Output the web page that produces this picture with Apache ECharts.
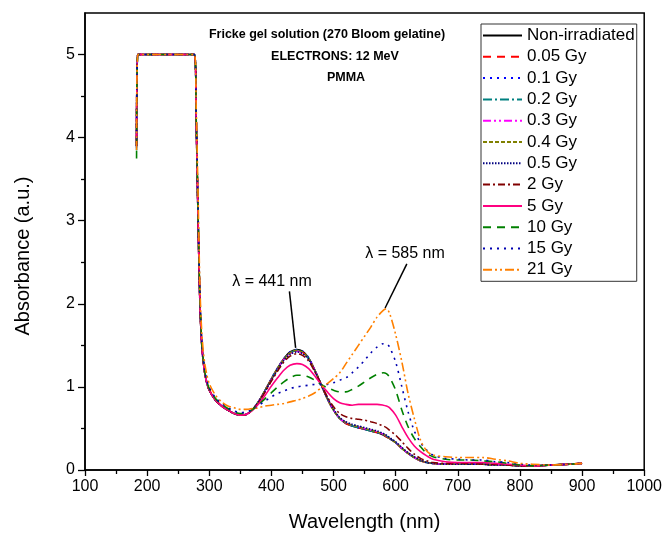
<!DOCTYPE html>
<html><head><meta charset="utf-8">
<script src="https://cdn.jsdelivr.net/npm/echarts@6/dist/echarts.min.js"></script>
<style>html,body{margin:0;padding:0;background:#fff}#c{width:665px;height:537px}</style>
</head><body><div id="c"></div>
<script>
const wavelengths = [183,185,276,279,282,285,288,292,296,300, 310,320,330,340,350,360,370,380,390,400, 410,420,430,441,450,460,470,480,490,500, 510,520,530,540,550,560,570,580,585,590, 600,610,620,630,640,650,660,680,700,720, 740,760,780,800,820,850,880,900];

const seriesNames = ['Non-irradiated','0.05 Gy','0.1 Gy','0.2 Gy','0.3 Gy','0.4 Gy','0.5 Gy','2 Gy','5 Gy','10 Gy','15 Gy','21 Gy'];

const nonIrradiated = [3.90,5,5,4.2,3.0,2.0,1.5,1.2,1.05,0.96, 0.84,0.77,0.72,0.68,0.66,0.67,0.73,0.83,0.96,1.10, 1.23,1.34,1.42,1.45,1.43,1.35,1.20,1.03,0.86,0.72, 0.62,0.56,0.53,0.51,0.49,0.47,0.45,0.42,0.40,0.38, 0.33,0.26,0.20,0.15,0.11,0.09,0.08,0.07,0.07,0.07, 0.07,0.06,0.06,0.05,0.05,0.06,0.07,0.08];
const gy005 = [3.95,5,5,4.25,3.05,2.02,1.52,1.21,1.06,0.97, 0.85,0.77,0.72,0.68,0.66,0.67,0.73,0.83,0.96,1.09, 1.22,1.33,1.41,1.44,1.42,1.34,1.20,1.03,0.86,0.72, 0.62,0.56,0.53,0.51,0.49,0.47,0.45,0.42,0.40,0.38, 0.33,0.26,0.20,0.15,0.11,0.09,0.08,0.07,0.07,0.07, 0.07,0.06,0.06,0.05,0.05,0.06,0.07,0.08];
const gy01 = [3.88,5,5,4.2,3.02,2.0,1.5,1.2,1.05,0.96, 0.84,0.77,0.72,0.68,0.66,0.67,0.73,0.83,0.96,1.10, 1.23,1.34,1.42,1.45,1.43,1.35,1.20,1.03,0.86,0.72, 0.62,0.57,0.53,0.51,0.49,0.47,0.45,0.43,0.41,0.38, 0.33,0.26,0.20,0.15,0.11,0.09,0.08,0.07,0.07,0.07, 0.07,0.06,0.06,0.05,0.05,0.06,0.07,0.08];
const gy02 = [3.85,5,5,4.22,3.04,2.01,1.51,1.21,1.05,0.96, 0.84,0.77,0.72,0.68,0.66,0.67,0.73,0.83,0.96,1.09, 1.22,1.33,1.41,1.44,1.42,1.34,1.20,1.03,0.86,0.72, 0.62,0.57,0.53,0.51,0.49,0.47,0.45,0.43,0.41,0.38, 0.33,0.26,0.20,0.15,0.11,0.09,0.08,0.07,0.07,0.07, 0.07,0.06,0.06,0.05,0.05,0.06,0.07,0.08];
const gy03 = [3.95,5,5,4.18,3.0,2.0,1.5,1.2,1.05,0.96, 0.84,0.77,0.72,0.68,0.66,0.67,0.73,0.83,0.95,1.09, 1.22,1.33,1.40,1.43,1.41,1.34,1.20,1.03,0.86,0.72, 0.62,0.57,0.54,0.52,0.50,0.48,0.46,0.43,0.41,0.38, 0.33,0.26,0.20,0.15,0.11,0.09,0.08,0.07,0.07,0.07, 0.07,0.06,0.06,0.05,0.05,0.06,0.07,0.08];
const gy04 = [3.90,5,5,4.2,3.02,2.0,1.5,1.2,1.05,0.96, 0.84,0.77,0.72,0.68,0.66,0.67,0.73,0.83,0.96,1.09, 1.22,1.33,1.41,1.44,1.42,1.34,1.20,1.03,0.86,0.72, 0.62,0.57,0.54,0.52,0.50,0.48,0.46,0.43,0.41,0.38, 0.33,0.26,0.20,0.15,0.11,0.09,0.08,0.07,0.07,0.07, 0.07,0.06,0.06,0.05,0.05,0.06,0.07,0.08];
const gy05 = [3.90,5,5,4.22,3.03,2.01,1.51,1.21,1.05,0.96, 0.84,0.77,0.72,0.68,0.66,0.67,0.73,0.83,0.95,1.08, 1.21,1.32,1.39,1.42,1.40,1.33,1.19,1.03,0.87,0.73, 0.63,0.58,0.55,0.53,0.51,0.49,0.47,0.44,0.42,0.39, 0.34,0.27,0.21,0.16,0.12,0.09,0.08,0.07,0.07,0.07, 0.07,0.06,0.06,0.05,0.05,0.06,0.07,0.08];
const gy2 = [3.90,5,5,4.2,3.0,2.0,1.5,1.2,1.05,0.96, 0.84,0.77,0.72,0.68,0.66,0.67,0.73,0.82,0.94,1.07, 1.19,1.30,1.37,1.40,1.38,1.31,1.18,1.03,0.88,0.76, 0.68,0.64,0.62,0.61,0.60,0.58,0.56,0.53,0.51,0.48, 0.42,0.34,0.26,0.19,0.14,0.11,0.09,0.08,0.08,0.08, 0.07,0.07,0.06,0.05,0.05,0.06,0.07,0.08];
const gy5 = [3.90,5,5,4.2,3.0,2.0,1.5,1.2,1.05,0.96, 0.84,0.77,0.72,0.68,0.66,0.67,0.72,0.80,0.90,1.01, 1.11,1.20,1.26,1.28,1.27,1.22,1.13,1.03,0.94,0.86, 0.81,0.79,0.78,0.79,0.79,0.79,0.79,0.78,0.77,0.75, 0.66,0.52,0.39,0.29,0.22,0.17,0.13,0.10,0.09,0.09, 0.09,0.08,0.07,0.06,0.05,0.06,0.07,0.08];
const gy10 = [3.75,5,5,4.2,3.05,2.05,1.52,1.22,1.07,0.98, 0.86,0.79,0.74,0.70,0.68,0.69,0.73,0.79,0.86,0.93, 1.00,1.06,1.11,1.14,1.14,1.12,1.08,1.03,0.99,0.96, 0.94,0.94,0.97,1.01,1.06,1.11,1.15,1.17,1.16,1.12, 0.96,0.72,0.52,0.38,0.28,0.20,0.16,0.13,0.12,0.12, 0.11,0.10,0.08,0.06,0.05,0.06,0.07,0.08];
const gy15 = [3.90,5,5,4.25,3.1,2.1,1.55,1.24,1.08,0.99, 0.87,0.80,0.75,0.71,0.69,0.70,0.73,0.78,0.83,0.88, 0.92,0.95,0.98,1.00,1.01,1.02,1.03,1.03,1.03,1.05, 1.08,1.11,1.17,1.24,1.32,1.41,1.48,1.52,1.52,1.48, 1.30,1.00,0.70,0.47,0.33,0.24,0.18,0.14,0.13,0.12, 0.12,0.10,0.09,0.07,0.06,0.06,0.07,0.08];
const gy21 = [3.85,5,5,4.35,3.3,2.2,1.65,1.32,1.15,1.04, 0.90,0.82,0.77,0.75,0.73,0.73,0.74,0.75,0.77,0.78, 0.79,0.80,0.82,0.84,0.86,0.89,0.93,0.99,1.04,1.10, 1.17,1.28,1.39,1.50,1.61,1.72,1.84,1.92,1.94,1.89, 1.63,1.30,0.92,0.62,0.36,0.23,0.18,0.16,0.15,0.15, 0.15,0.13,0.11,0.08,0.07,0.06,0.07,0.08];

const allValues = [nonIrradiated,gy005,gy01,gy02,gy03,gy04,gy05,gy2,gy5,gy10,gy15,gy21];

const xTicks = [100,200,300,400,500,600,700,800,900,1000];
const yMajorTicks = [0,1,2,3,4,5];
const yMinorTicks = [0.5,1.5,2.5,3.5,4.5];

const titleLines = ['Fricke gel solution (270 Bloom gelatine)','ELECTRONS: 12 MeV','PMMA'];
const xAxisTitle = 'Wavelength (nm)';
const yAxisTitle = 'Absorbance (a.u.)';
const peak1Label = 'λ = 441 nm';
const peak2Label = 'λ = 585 nm';
const arrow1 = [[429,2.15],[439,1.47]];
const arrow2 = [[618,2.48],[583,1.95]];

const FONT = 'Arial, "Liberation Sans", sans-serif';

const styles = [
  {color:'#000000', type:'solid'},
  {color:'#ff0000', type:[8,6]},
  {color:'#0000ff', type:[2,5]},
  {color:'#008080', type:[9,3,2,3]},
  {color:'#ff00ff', type:[8,3,2,3,2,3]},
  {color:'#808000', type:[4,2]},
  {color:'#000080', type:[1.5,1.5]},
  {color:'#800000', type:[7,3,2,3]},
  {color:'#ff0080', type:'solid'},
  {color:'#008000', type:[8,6]},
  {color:'#0000b0', type:[2,5]},
  {color:'#ff8000', type:[9,3,2,3,2,3]}
];

const series = seriesNames.map((name, k) => {
  const s = {
    name: name,
    type: 'line',
    symbol: 'none',
    showSymbol: false,
    smooth: 0.3,
    animation: false,
    data: wavelengths.map((w, i) => [w, allValues[k][i]]),
    lineStyle: {color: styles[k].color, type: styles[k].type, width: 1.6},
    itemStyle: {color: styles[k].color},
    z: 2 + k
  };
  if (k === 0) {
    s.markLine = {
      silent: true,
      animation: false,
      symbol: ['none','arrow'],
      symbolSize: [0, 11],
      label: {show: false},
      lineStyle: {color:'#000', type:'solid', width: 1.5},
      data: [
        [{coord: arrow1[0]}, {coord: arrow1[1]}],
        [{coord: arrow2[0]}, {coord: arrow2[1]}]
      ]
    };
  }
  return s;
});

const chart = echarts.init(document.getElementById('c'), null, {renderer:'canvas'});
chart.setOption({
  animation: false,
  backgroundColor: '#fff',
  grid: {left: 85, right: 19, top: 13, bottom: 65, show: true, borderColor: '#000', borderWidth: 1.5, backgroundColor: 'transparent'},
  xAxis: {
    type: 'value', min: 100, max: 1000, interval: 100,
    name: xAxisTitle, nameLocation: 'middle', nameGap: 42,
    nameTextStyle: {fontFamily: FONT, fontSize: 20, color: '#000'},
    axisLine: {show: true, lineStyle: {color:'#000', width: 1.5}},
    axisTick: {show: true, inside: false, length: 6, lineStyle: {color:'#000', width: 1.3}},
    minorTick: {show: true, splitNumber: 2, length: 4, lineStyle: {color:'#000', width: 1.3}},
    axisLabel: {fontFamily: FONT, fontSize: 16, color: '#000', margin: 9, customValues: xTicks, formatter: v => String(v)},
    splitLine: {show: false}
  },
  yAxis: [{
    type: 'value', min: 0, max: 5.5,
    axisLine: {show: true, lineStyle: {color:'#000', width: 1.5}},
    axisTick: {show: true, length: 7, lineStyle: {color:'#000', width: 1.3}, customValues: yMajorTicks},
    axisLabel: {fontFamily: FONT, fontSize: 16, color: '#000', margin: 10, customValues: yMajorTicks, formatter: v => String(v)},
    splitLine: {show: false}
  }, {
    type: 'value', min: 0, max: 5.5, position: 'left',
    axisLine: {show: false},
    axisTick: {show: true, length: 4, lineStyle: {color:'#000', width: 1.3}, customValues: yMinorTicks},
    axisLabel: {show: false},
    splitLine: {show: false}
  }],
  legend: {
    data: seriesNames,
    orient: 'vertical', left: 481, top: 24,
    padding: [3, 2, 3, 1],
    itemWidth: 39, itemHeight: 12, itemGap: 4.3,
    align: 'left',
    borderColor: '#333', borderWidth: 1,
    backgroundColor: '#fff',
    itemStyle: {opacity: 0},
    textStyle: {fontFamily: FONT, fontSize: 17, color: '#000', lineHeight: 17},
    selectedMode: false
  },
  graphic: [
    {type:'text', style: {text: titleLines[0], font: 'bold 12.5px ' + FONT, fill:'#000', x: 327, y: 35, textAlign:'center', textVerticalAlign:'middle'}},
    {type:'text', style: {text: titleLines[1], font: 'bold 12.5px ' + FONT, fill:'#000', x: 335, y: 57, textAlign:'center', textVerticalAlign:'middle'}},
    {type:'text', style: {text: titleLines[2], font: 'bold 12.5px ' + FONT, fill:'#000', x: 346, y: 78, textAlign:'center', textVerticalAlign:'middle'}},
    {type:'text', style: {text: peak1Label, font: '16px ' + FONT, fill:'#000', x: 272, y: 282, textAlign:'center', textVerticalAlign:'middle'}},
    {type:'text', style: {text: peak2Label, font: '16px ' + FONT, fill:'#000', x: 405, y: 254, textAlign:'center', textVerticalAlign:'middle'}},
    {type:'text', x: 23, y: 256, rotation: Math.PI / 2, style: {text: yAxisTitle, font: '20px ' + FONT, fill:'#000', x: 0, y: 0, textAlign:'center', textVerticalAlign:'middle'}}
  ],
  series: series
});
</script></body></html>
